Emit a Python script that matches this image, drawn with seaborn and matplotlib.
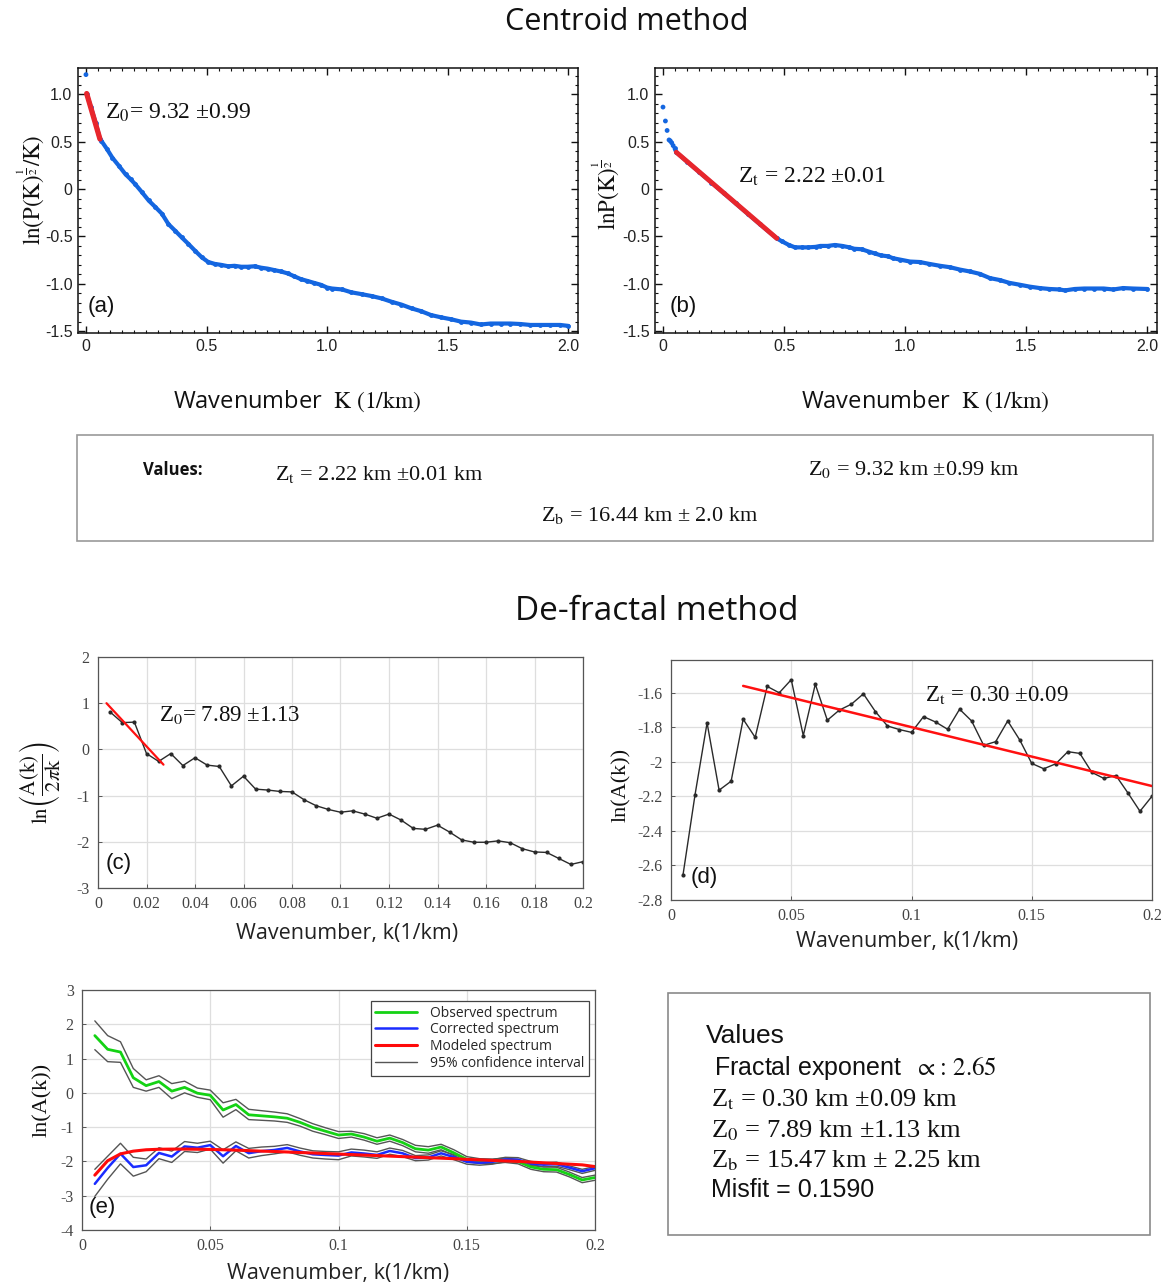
import matplotlib
matplotlib.use("Agg")
import matplotlib.pyplot as plt
from matplotlib import font_manager
from matplotlib.patches import Rectangle
from matplotlib.lines import Line2D
from matplotlib.ticker import MultipleLocator, FuncFormatter
import seaborn as sns

# ---------------- Centroid method spectra ----------------
# (a) ln(P(K)^1/2 / K)
a_head_k = [0.0]
a_head_v = [1.21]
a_k = [0.004, 0.02, 0.04, 0.058, 0.064, 0.088, 0.11, 0.137, 0.164, 0.185, 0.205, 0.233,
       0.26, 0.288, 0.315, 0.342, 0.37, 0.397, 0.425, 0.452, 0.48, 0.507, 0.534, 0.56,
       0.59, 0.616, 0.644, 0.67, 0.70, 0.726, 0.753, 0.78, 0.808, 0.836, 0.863, 0.89,
       0.918, 0.945, 0.973, 1.0, 1.02, 1.062, 1.10, 1.144, 1.185, 1.226, 1.267, 1.308,
       1.35, 1.39, 1.43, 1.473, 1.514, 1.555, 1.596, 1.637, 1.678, 1.72, 1.76, 1.80,
       1.842, 1.883, 1.925, 1.966, 2.0]
a_v = [1.00, 0.87, 0.70, 0.53, 0.51, 0.42, 0.33, 0.245, 0.157, 0.105, 0.05, -0.035,
       -0.12, -0.19, -0.26, -0.37, -0.44, -0.51, -0.58, -0.65, -0.72, -0.77, -0.79, -0.80,
       -0.815, -0.81, -0.82, -0.82, -0.815, -0.83, -0.84, -0.855, -0.87, -0.89, -0.92, -0.95,
       -0.97, -0.99, -1.01, -1.04, -1.05, -1.06, -1.09, -1.11, -1.13, -1.155, -1.19, -1.22,
       -1.26, -1.29, -1.33, -1.355, -1.375, -1.40, -1.41, -1.43, -1.42, -1.42, -1.42, -1.425,
       -1.435, -1.435, -1.435, -1.435, -1.445]
a_fit_k = [0.003, 0.058]
a_fit_v = [1.01, 0.53]

# (b) ln P(K)^1/2
b_head_k = [0.0, 0.01, 0.017, 0.025, 0.03, 0.036, 0.042]
b_head_v = [0.867, 0.72, 0.62, 0.52, 0.51, 0.49, 0.46]
b_k = [0.048, 0.055, 0.10, 0.15, 0.20, 0.25, 0.30, 0.35, 0.40, 0.47, 0.49, 0.52, 0.545,
       0.575, 0.60, 0.63, 0.65, 0.68, 0.71, 0.74, 0.77, 0.79, 0.82, 0.85, 0.875, 0.90,
       0.93, 0.95, 0.98, 1.02, 1.06, 1.10, 1.144, 1.185, 1.226, 1.267, 1.308, 1.35, 1.39,
       1.43, 1.473, 1.514, 1.555, 1.596, 1.637, 1.66, 1.70, 1.74, 1.78, 1.82, 1.86, 1.90,
       1.94, 2.0]
b_v = [0.43, 0.39, 0.29, 0.18, 0.07, -0.04, -0.15, -0.26, -0.37, -0.52, -0.55, -0.59, -0.615,
       -0.615, -0.615, -0.61, -0.60, -0.60, -0.59, -0.60, -0.615, -0.63, -0.635, -0.66, -0.68, -0.70,
       -0.71, -0.73, -0.745, -0.765, -0.77, -0.79, -0.81, -0.825, -0.85, -0.87, -0.895, -0.94, -0.96,
       -0.99, -1.01, -1.03, -1.045, -1.055, -1.06, -1.07, -1.055, -1.05, -1.05, -1.05, -1.06, -1.045,
       -1.05, -1.055]
b_fit_k = [0.055, 0.47]
b_fit_v = [0.39, -0.52]

# ---------------- De-fractal method spectra ----------------
k = [0.005, 0.010, 0.015, 0.020, 0.025, 0.030, 0.035, 0.040, 0.045, 0.050,
     0.055, 0.060, 0.065, 0.070, 0.075, 0.080, 0.085, 0.090, 0.095, 0.100,
     0.105, 0.110, 0.115, 0.120, 0.125, 0.130, 0.135, 0.140, 0.145, 0.150,
     0.155, 0.160, 0.165, 0.170, 0.175, 0.180, 0.185, 0.190, 0.195, 0.200]

# (c) ln(A(k)/2πk)
c_vals = [0.81, 0.58, 0.59, -0.09, -0.26, -0.09, -0.35, -0.18, -0.34, -0.37,
          -0.79, -0.58, -0.86, -0.88, -0.91, -0.92, -1.09, -1.22, -1.30, -1.36,
          -1.33, -1.40, -1.49, -1.40, -1.53, -1.71, -1.73, -1.64, -1.79, -1.96,
          -2.01, -2.01, -1.98, -2.02, -2.15, -2.22, -2.23, -2.36, -2.49, -2.43]
c_fit_k = [0.0035, 0.027]
c_fit_v = [1.0, -0.33]

# (d) ln(A(k)) after fractal correction
d_vals = [-2.654, -2.19, -1.774, -2.164, -2.112, -1.753, -1.858, -1.563, -1.60, -1.524,
          -1.848, -1.55, -1.759, -1.70, -1.666, -1.606, -1.709, -1.792, -1.813, -1.829,
          -1.738, -1.769, -1.811, -1.695, -1.763, -1.904, -1.883, -1.763, -1.873, -2.009,
          -2.04, -2.011, -1.941, -1.951, -2.061, -2.096, -2.079, -2.18, -2.286, -2.199]
d_fit_k = [0.03, 0.20]
d_fit_v = [-1.56, -2.14]

# (e) observed / corrected / modeled spectra with 95% bounds
obs_vals = [1.67, 1.27, 1.19, 0.44, 0.21, 0.33, 0.05, 0.16, -0.01, -0.07,
            -0.50, -0.34, -0.64, -0.67, -0.70, -0.74, -0.86, -1.01, -1.12, -1.23,
            -1.20, -1.29, -1.41, -1.32, -1.45, -1.63, -1.67, -1.58, -1.75, -1.94,
            -1.99, -1.99, -1.96, -2.00, -2.16, -2.23, -2.24, -2.38, -2.54, -2.47]
obs_hi = [2.10, 1.67, 1.49, 0.71, 0.38, 0.50, 0.27, 0.34, 0.14, 0.08,
          -0.29, -0.19, -0.48, -0.52, -0.56, -0.61, -0.75, -0.90, -1.02, -1.13,
          -1.12, -1.19, -1.31, -1.23, -1.36, -1.53, -1.57, -1.50, -1.66, -1.86,
          -1.92, -1.93, -1.90, -1.94, -2.09, -2.16, -2.17, -2.31, -2.47, -2.40]
obs_lo = [1.26, 0.91, 0.89, 0.16, 0.05, 0.16, -0.17, 0.00, -0.13, -0.20,
          -0.71, -0.49, -0.78, -0.80, -0.82, -0.86, -0.97, -1.12, -1.22, -1.33,
          -1.29, -1.38, -1.50, -1.41, -1.54, -1.72, -1.76, -1.66, -1.83, -2.02,
          -2.06, -2.06, -2.03, -2.07, -2.23, -2.30, -2.31, -2.45, -2.62, -2.55]
cor_hi = [-2.23, -1.85, -1.47, -1.88, -1.93, -1.60, -1.70, -1.42, -1.47, -1.41,
          -1.66, -1.43, -1.62, -1.58, -1.56, -1.51, -1.61, -1.69, -1.71, -1.72,
          -1.64, -1.67, -1.72, -1.61, -1.68, -1.83, -1.81, -1.69, -1.80, -1.94,
          -1.97, -1.95, -1.88, -1.89, -2.00, -2.04, -2.02, -2.13, -2.23, -2.15]
cor_lo = [-3.02, -2.52, -2.07, -2.43, -2.30, -1.92, -2.03, -1.71, -1.74, -1.64,
          -2.05, -1.69, -1.90, -1.83, -1.78, -1.72, -1.82, -1.90, -1.93, -1.95,
          -1.84, -1.87, -1.91, -1.79, -1.86, -1.98, -1.96, -1.84, -1.95, -2.08,
          -2.11, -2.08, -2.01, -2.02, -2.12, -2.16, -2.14, -2.24, -2.35, -2.26]
model_vals = [-2.40, -1.98, -1.78, -1.70, -1.66, -1.645, -1.64, -1.64, -1.645, -1.65,
              -1.66, -1.67, -1.685, -1.70, -1.71, -1.725, -1.74, -1.755, -1.77, -1.785,
              -1.80, -1.815, -1.83, -1.845, -1.86, -1.875, -1.89, -1.905, -1.92, -1.94,
              -1.955, -1.97, -1.985, -2.00, -2.02, -2.04, -2.06, -2.08, -2.10, -2.15]

# ---------------- styling ----------------
sns.set_theme(style="white")
plt.rcParams['font.family'] = ['Liberation Sans', 'DejaVu Sans']
plt.rcParams['mathtext.fontset'] = 'stix'

_names = {f.name for f in font_manager.fontManager.ttflist}
NARROW = 'Liberation Sans Narrow' if 'Liberation Sans Narrow' in _names else 'Open Sans'
SANS = 'Liberation Sans'
SERIF = 'Liberation Serif'
WIDE = 'Open Sans'

BLUE = '#1466e0'
RED = '#e8262c'

W, H = 1163, 1286
fig = plt.figure(figsize=(W / 100, H / 100), dpi=100)
fig.patch.set_facecolor('white')


def fx(x):
    return x / W


def fy(y):
    return 1 - y / H


def rect(l, t, r, b):
    return [l / W, 1 - b / H, (r - l) / W, (b - t) / H]


def centroid_style(ax):
    ax.set_xlim(-0.033, 2.04)
    ax.set_ylim(-1.52, 1.28)
    ax.xaxis.set_major_locator(MultipleLocator(0.5))
    ax.xaxis.set_minor_locator(MultipleLocator(0.05))
    ax.yaxis.set_major_locator(MultipleLocator(0.5))
    ax.yaxis.set_minor_locator(MultipleLocator(0.1))
    fmt = FuncFormatter(lambda v, _: '0' if abs(v) < 1e-9 else f'{v:.1f}')
    ax.xaxis.set_major_formatter(fmt)
    ax.yaxis.set_major_formatter(fmt)
    ax.tick_params(which='both', direction='in', top=True, right=True,
                   bottom=True, left=True, color='#111')
    ax.tick_params(which='major', length=5, width=1, labelsize=11.5, pad=4,
                   labelcolor='#222')
    ax.tick_params(which='minor', length=2.5, width=0.8)
    for lab in ax.get_xticklabels() + ax.get_yticklabels():
        lab.set_family(SANS)
    for s in ax.spines.values():
        s.set_color('#111')
        s.set_linewidth(1.1)
    ax.set_xlabel('')
    ax.set_ylabel('')


def matlab_style(ax, xlim, ylim, xstep, ystep):
    ax.set_xlim(*xlim)
    ax.set_ylim(*ylim)
    ax.xaxis.set_major_locator(MultipleLocator(xstep))
    ax.yaxis.set_major_locator(MultipleLocator(ystep))
    fmt = FuncFormatter(lambda v, _: f'{round(v, 4) + 0.0:g}')
    ax.xaxis.set_major_formatter(fmt)
    ax.yaxis.set_major_formatter(fmt)
    ax.grid(True, color='#dedede', linewidth=0.9)
    ax.set_axisbelow(True)
    ax.tick_params(which='major', direction='in', length=3, width=0.7,
                   labelsize=11.5, labelcolor='#444', color='#555', pad=6,
                   bottom=True, left=True)
    for lab in ax.get_xticklabels() + ax.get_yticklabels():
        lab.set_family(SERIF)
    for s in ax.spines.values():
        s.set_color('#555')
        s.set_linewidth(0.9)
    ax.set_xlabel('')
    ax.set_ylabel('')


# ---------------- titles ----------------
fig.text(fx(627), fy(22), 'Centroid method', ha='center', va='center',
         family=NARROW, fontsize=22, color='#111')
fig.text(fx(657), fy(611), 'De-fractal method', ha='center', va='center',
         family=WIDE, fontsize=24, color='#111')

# ---------------- panel (a) ----------------
ax_a = fig.add_axes(rect(78, 68, 578, 333))
sns.scatterplot(x=a_head_k, y=a_head_v, ax=ax_a, color=BLUE, s=12,
                edgecolor='none', legend=False)
sns.lineplot(x=a_k, y=a_v, ax=ax_a, color=BLUE, lw=3.0, sort=False,
             estimator=None, marker='o', markersize=3.5, markeredgewidth=0,
             legend=False)
sns.lineplot(x=a_fit_k, y=a_fit_v, ax=ax_a, color=RED, lw=3.8, sort=False,
             estimator=None, legend=False)
centroid_style(ax_a)
ax_a.text(0.08, 0.81, r'Z$_0$= 9.32 ±0.99', family=SERIF, fontsize=17,
          va='center', ha='left', color='#111')
ax_a.text(0.02, 0.10, '(a)', transform=ax_a.transAxes, family=SANS,
          fontsize=16, va='center', ha='left', color='#111')
fig.text(fx(31), fy(190), r'$\mathrm{ln(P(K)^{\frac{1}{2}}/K)}$', rotation=90,
         ha='center', va='center', fontsize=16.5, color='#111')
fig.text(fx(297), fy(401), r'Wavenumber  $\mathrm{K\ (1/km)}$', ha='center',
         va='center', family=NARROW, fontsize=17, color='#111')

# ---------------- panel (b) ----------------
ax_b = fig.add_axes(rect(655, 68, 1157, 333))
sns.scatterplot(x=b_head_k, y=b_head_v, ax=ax_b, color=BLUE, s=12,
                edgecolor='none', legend=False)
sns.lineplot(x=b_k, y=b_v, ax=ax_b, color=BLUE, lw=3.0, sort=False,
             estimator=None, marker='o', markersize=3.5, markeredgewidth=0,
             legend=False)
sns.lineplot(x=b_fit_k, y=b_fit_v, ax=ax_b, color=RED, lw=3.5, sort=False,
             estimator=None, legend=False)
centroid_style(ax_b)
ax_b.text(0.31, 0.127, r'Z$_\mathrm{t}$ = 2.22 ±0.01', family=SERIF, fontsize=17,
          va='center', ha='left', color='#111')
ax_b.text(0.03, 0.10, '(b)', transform=ax_b.transAxes, family=SANS,
          fontsize=16, va='center', ha='left', color='#111')
fig.text(fx(606), fy(195), r'$\mathrm{lnP(K)^{\frac{1}{2}}}$', rotation=90,
         ha='center', va='center', fontsize=16.5, color='#111')
fig.text(fx(925), fy(401), r'Wavenumber  $\mathrm{K\ (1/km)}$', ha='center',
         va='center', family=NARROW, fontsize=17, color='#111')

# ---------------- centroid results box ----------------
fig.add_artist(Rectangle((fx(77), fy(541)), (1153 - 77) / W, (541 - 435) / H,
                         transform=fig.transFigure, fill=False,
                         edgecolor='#9a9a9a', linewidth=1.2))
fig.text(fx(143), fy(470), 'Values:', family=NARROW, fontweight='bold',
         fontsize=12, ha='left', va='center', color='#111')
fig.text(fx(275), fy(475), r'Z$_\mathrm{t}$ = 2.22 km ±0.01 km', family=SERIF,
         fontsize=16, ha='left', va='center', color='#111')
fig.text(fx(808), fy(470), r'Z$_0$ = 9.32 km ±0.99 km', family=SERIF,
         fontsize=16, ha='left', va='center', color='#111')
fig.text(fx(541), fy(515), r'Z$_\mathrm{b}$ = 16.44 km ± 2.0 km', family=SERIF,
         fontsize=16, ha='left', va='center', color='#111')

# ---------------- panel (c) ----------------
ax_c = fig.add_axes(rect(98, 657, 583, 888))
sns.lineplot(x=k, y=c_vals, ax=ax_c, color='#2a2a2a', lw=1.0, sort=False,
             estimator=None, marker='o', markersize=3, markeredgewidth=0,
             legend=False)
sns.lineplot(x=c_fit_k, y=c_fit_v, ax=ax_c, color='#ff1010', lw=1.6, sort=False,
             estimator=None, legend=False)
matlab_style(ax_c, (0, 0.2), (-3, 2), 0.02, 1)
ax_c.text(0.025, 0.745, r'Z$_0$= 7.89 ±1.13', family=SERIF, fontsize=16.5,
          va='center', ha='left', color='#111')
ax_c.text(0.015, 0.108, '(c)', transform=ax_c.transAxes, family=SANS,
          fontsize=16, va='center', ha='left', color='#111')
fig.text(fx(40), fy(782), r'$\mathrm{ln}\left(\dfrac{\mathrm{A(k)}}{2\pi\mathrm{k}}\right)$',
         rotation=90, ha='center', va='center', fontsize=15, color='#111')
fig.text(fx(347), fy(933), 'Wavenumber, k(1/km)', ha='center', va='center',
         family=NARROW, fontsize=15.5, color='#222')

# ---------------- panel (d) ----------------
ax_d = fig.add_axes(rect(671, 660, 1152, 900))
sns.lineplot(x=k, y=d_vals, ax=ax_d, color='#2a2a2a', lw=1.0, sort=False,
             estimator=None, marker='o', markersize=3, markeredgewidth=0,
             legend=False)
sns.lineplot(x=d_fit_k, y=d_fit_v, ax=ax_d, color='#ff1010', lw=1.8, sort=False,
             estimator=None, legend=False)
matlab_style(ax_d, (0, 0.2), (-2.8, -1.41), 0.05, 0.2)
ax_d.text(0.1056, -1.61, r'Z$_\mathrm{t}$ = 0.30 ±0.09', family=SERIF, fontsize=16.5,
          va='center', ha='left', color='#111')
ax_d.text(0.04, 0.092, '(d)', transform=ax_d.transAxes, family=SANS,
          fontsize=16, va='center', ha='left', color='#111')
fig.text(fx(621), fy(785), 'ln(A(k))', rotation=90, ha='center', va='center',
         family=SERIF, fontsize=16, color='#111')
fig.text(fx(907), fy(942), 'Wavenumber, k(1/km)', ha='center', va='center',
         family=NARROW, fontsize=15.5, color='#222')

# ---------------- panel (e) ----------------
ax_e = fig.add_axes(rect(82, 990, 595, 1230))
for band in (obs_hi, obs_lo, cor_hi, cor_lo):
    sns.lineplot(x=k, y=band, ax=ax_e, color='#555555', lw=1.0, sort=False,
                 estimator=None, legend=False)
sns.lineplot(x=k, y=obs_vals, ax=ax_e, color='#14d214', lw=2.0, sort=False,
             estimator=None, legend=False)
sns.lineplot(x=k, y=d_vals, ax=ax_e, color='#1a2cff', lw=1.8, sort=False,
             estimator=None, legend=False)
sns.lineplot(x=k, y=model_vals, ax=ax_e, color='#ff0a0a', lw=2.2, sort=False,
             estimator=None, legend=False)
matlab_style(ax_e, (0, 0.2), (-4, 3), 0.05, 1)
handles = [Line2D([], [], color='#14d214', lw=2.0),
           Line2D([], [], color='#1a2cff', lw=1.8),
           Line2D([], [], color='#ff0a0a', lw=2.2),
           Line2D([], [], color='#555555', lw=1.0)]
leg = ax_e.legend(handles, ['Observed spectrum', 'Corrected spectrum',
                            'Modeled spectrum', '95% confidence interval'],
                  loc='upper right', bbox_to_anchor=(0.988, 0.955),
                  prop={'family': NARROW, 'size': 10}, frameon=True,
                  fancybox=False, edgecolor='#444', framealpha=1,
                  borderpad=0.35, labelspacing=0.12, handlelength=3.0,
                  handletextpad=0.9, borderaxespad=0)
leg.get_frame().set_linewidth(0.9)
ax_e.text(0.012, 0.092, '(e)', transform=ax_e.transAxes, family=SANS,
          fontsize=16, va='center', ha='left', color='#111')
fig.text(fx(42), fy(1100), 'ln(A(k))', rotation=90, ha='center', va='center',
         family=SERIF, fontsize=16, color='#111')
fig.text(fx(338), fy(1273), 'Wavenumber, k(1/km)', ha='center', va='center',
         family=NARROW, fontsize=15.5, color='#222')

# ---------------- de-fractal results box ----------------
fig.add_artist(Rectangle((fx(668), fy(1235)), (1150 - 668) / W, (1235 - 993) / H,
                         transform=fig.transFigure, fill=False,
                         edgecolor='#8a8a8a', linewidth=1.2))
fig.text(fx(706), fy(1036), 'Values', family=SANS, fontsize=19,
         ha='left', va='center', color='#111')
fig.text(fx(714), fy(1068), r'Fractal exponent  $\propto\!\mathrm{:\,2.65}$',
         family=SANS, fontsize=18, ha='left', va='center', color='#111')
fig.text(fx(711), fy(1100), r'Z$_\mathrm{t}$ = 0.30 km ±0.09 km', family=SERIF,
         fontsize=19, ha='left', va='center', color='#111')
fig.text(fx(711), fy(1131), r'Z$_0$ = 7.89 km ±1.13 km', family=SERIF,
         fontsize=19, ha='left', va='center', color='#111')
fig.text(fx(711), fy(1161), r'Z$_\mathrm{b}$ = 15.47 km ± 2.25 km', family=SERIF,
         fontsize=19, ha='left', va='center', color='#111')
fig.text(fx(711), fy(1190), 'Misfit = 0.1590', family=SANS, fontsize=18,
         ha='left', va='center', color='#111')

fig.savefig('out.png', dpi=100, facecolor='white')
